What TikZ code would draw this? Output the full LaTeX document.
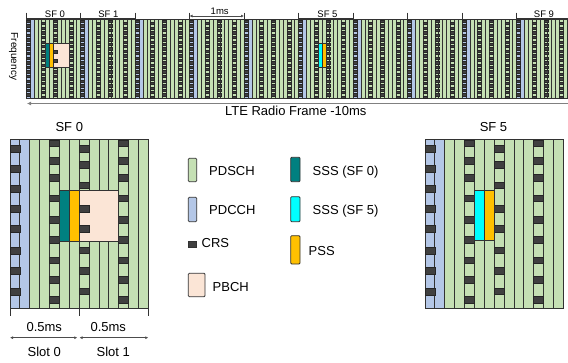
\documentclass[tikz,border=0pt]{standalone}
\usepackage{fontspec}
\setmainfont{Liberation Sans}
\usepackage{xcolor}
\usepackage{tikz}
\usetikzlibrary{arrows.meta,positioning,calc}
\definecolor{ltegreen}{RGB}{197,224,180}
\definecolor{lteblue}{RGB}{180,199,231}
\definecolor{ltecrs}{RGB}{64,64,64}
\definecolor{ltepbch}{RGB}{251,229,214}
\definecolor{lteteal}{RGB}{0,128,128}
\definecolor{ltecyan}{RGB}{0,255,255}
\definecolor{lteorange}{RGB}{255,192,0}
\definecolor{lteedge}{RGB}{50,50,50}

\begin{document}
\begin{tikzpicture}[x=1pt, y=-1pt,
  font=\fontsize{13}{15}\selectfont,
  lbl/.style={inner sep=0pt, anchor=base},
  lgd/.style={inner sep=0pt, anchor=base west},
  toplbl/.style={inner sep=0pt, anchor=base, font=\fontsize{9.5}{11}\selectfont},
  cell/.style={draw=lteedge, line width=0.8pt},
  thincell/.style={draw=lteedge, line width=0.35pt},
  crs/.style={fill=ltecrs, draw=black!85, line width=0.5pt},
  swatch/.style={draw=lteedge, line width=0.8pt, rounded corners=1pt},
  tick/.style={black!80, line width=0.6pt},
  dim/.style={{Latex[length=3pt,width=3pt]}-{Latex[length=3pt,width=3pt]}, black!70, line width=0.7pt}
]
\useasboundingbox (0,0) rectangle (568,362);

% radio frame, 10 subframes
\foreach \s in {0,...,9}{
  \foreach \c in {0,...,13}{
    \ifnum\c<2 \def\colr{lteblue}\else\def\colr{ltegreen}\fi
    \filldraw[thincell, fill=\colr] ({26+54.5*\s+3.893*\c},19.5) rectangle ++(3.893,79);
  }
  \foreach \c/\o in {0/0.4,4/2.7,7/0.4,11/2.7}
    \foreach \k in {0,...,16}
      \filldraw[crs, line width=0.2pt] ({26+54.5*\s+3.893*\c},{19.5+\o+4.6*\k}) rectangle ++(3.893,2.3);
}
\filldraw[thincell, fill=lteteal] (45.47,43.3) rectangle (49.36,66.7);
\filldraw[thincell, fill=lteorange] (49.36,43.3) rectangle (53.25,66.7);
\filldraw[thincell, fill=ltepbch] (53.25,43.3) rectangle (68.82,66.7);
\foreach \y in {50,59.5}
  \filldraw[crs, line width=0.2pt] (53.25,\y) rectangle ++(3.893,2.8);
\filldraw[thincell, fill=ltecyan] (317.97,43.3) rectangle (321.86,66.7);
\filldraw[thincell, fill=lteorange] (321.86,43.3) rectangle (325.75,66.7);

% subframe ticks and labels
\foreach \i in {0,...,10}
  \draw[tick] ({26+54.5*\i},12.5) -- ({26+54.5*\i},19.5);
\foreach \a/\b in {26/80.5,80.5/135,298.5/353,516.5/571}
  \draw[tick] (\a,18.3) -- (\b,18.3);
\node[toplbl] (sf0top) at (55,17.3) {SF 0};
\node[toplbl] (sf1top) at (108.3,17.5) {SF 1};
\node[toplbl] (sf5top) at (327.5,17.5) {SF 5};
\node[toplbl] (sf9top) at (544,17.5) {SF 9};
\node[toplbl] (onems) at (219.7,14.2) {1ms};
\coordinate (ms-l) at (189.5,16);
\coordinate (ms-r) at (244,16);
\draw[dim, line width=0.6pt] (ms-l) -- (ms-r);

\node[inner sep=0pt, rotate=-90, font=\fontsize{10}{12}\selectfont] (freq) at (13.5,56.5) {Frequency};

\coordinate (fr-l) at (27,103.5);
\coordinate (fr-r) at (575,103.5);
\draw[{Latex[length=4pt,width=4pt]}-{Latex[length=4pt,width=4pt]}, black!50, line width=1.8pt] (fr-l) -- (fr-r);
\node[lbl] (frame) at (295.8,115) {LTE Radio Frame -10ms};

% SF 0 and SF 5 in detail
\foreach \xo in {10,425}{
  \foreach \c in {0,...,13}{
    \ifnum\c<2 \def\colr{lteblue}\else\def\colr{ltegreen}\fi
    \filldraw[cell, fill=\colr] ({\xo+9.88*\c},139.3) rectangle ++(9.88,169);
  }
  \foreach \y in {145.7,165.7,185.7,205.7,225.7,247.3,267.3,288.3}
    \filldraw[crs] (\xo,\y) rectangle ++(9.88,6.6);
  \foreach \y in {145.7,161.3,182,205.7,225.7,247,267.3,288}
    \filldraw[crs] ({\xo+9.88*7},\y) rectangle ++(9.88,6.6);
  \foreach \y in {140,157.7,174.3,195,216.7,236.7,257,276.7,296.7}{
    \filldraw[crs] ({\xo+9.88*4},\y) rectangle ++(9.88,6.6);
    \filldraw[crs] ({\xo+9.88*11},\y) rectangle ++(9.88,6.6);
  }
}
\filldraw[cell, fill=lteteal] (59.4,190) rectangle (69.28,241);
\filldraw[cell, fill=lteorange] (69.28,190) rectangle (79.16,241);
\filldraw[cell, fill=ltepbch] (79.16,190) rectangle (118.68,241);
\foreach \y in {205.7,225.7}
  \filldraw[crs] (79.16,\y) rectangle ++(9.88,6.6);
\filldraw[cell, fill=ltecyan] (474.4,190) rectangle (484.28,240.7);
\filldraw[cell, fill=lteorange] (484.28,190) rectangle (494.16,240.7);

\node[lbl] (sf0) at (69.3,131.7) {SF 0};
\node[lbl] (sf5) at (493.5,131.7) {SF 5};

% slots
\foreach \x in {10,79.16,148.3}
  \draw[tick, line width=0.8pt] (\x,308.3) -- (\x,316);
\coordinate (s0-l) at (10,337.7);
\coordinate (s0-r) at (77.3,337.7);
\coordinate (s1-l) at (79.5,337.7);
\coordinate (s1-r) at (148.3,337.7);
\draw[dim] (s0-l) -- (s0-r);
\draw[dim] (s1-l) -- (s1-r);
\node[lbl] (half0) at (44.3,331.7) {0.5ms};
\node[lbl] (half1) at (108.3,331.7) {0.5ms};
\node[lbl] (slot0) at (44.3,356.7) {Slot 0};
\node[lbl] (slot1) at (113.3,356.7) {Slot 1};

% legend
\filldraw[swatch, fill=ltegreen] (188.3,158.3) rectangle (196.7,181.7);
\filldraw[swatch, fill=lteblue] (188.3,197.3) rectangle (196.7,221.7);
\filldraw[swatch, fill=ltecrs, rounded corners=0pt] (188.3,241.7) rectangle (196.7,247.3);
\filldraw[swatch, fill=ltepbch] (188.3,273.3) rectangle (205,296.7);
\filldraw[swatch, fill=lteteal] (290.7,157.3) rectangle (300,181.7);
\filldraw[swatch, fill=ltecyan] (290.7,196.7) rectangle (300,221.7);
\filldraw[swatch, fill=lteorange] (290.7,235.7) rectangle (300,264);
\node[lgd] (pdsch) at (209,175) {PDSCH};
\node[lgd] (pdcch) at (209,214) {PDCCH};
\node[lgd] (crs) at (201.5,247.3) {CRS};
\node[lgd] (pbch) at (212.5,291.7) {PBCH};
\node[lgd] (ssa) at (312.5,175) {SSS (SF 0)};
\node[lgd] (ssb) at (312.5,214) {SSS (SF 5)};
\node[lgd] (pss) at (308.5,255) {PSS};
\end{tikzpicture}
\end{document}
